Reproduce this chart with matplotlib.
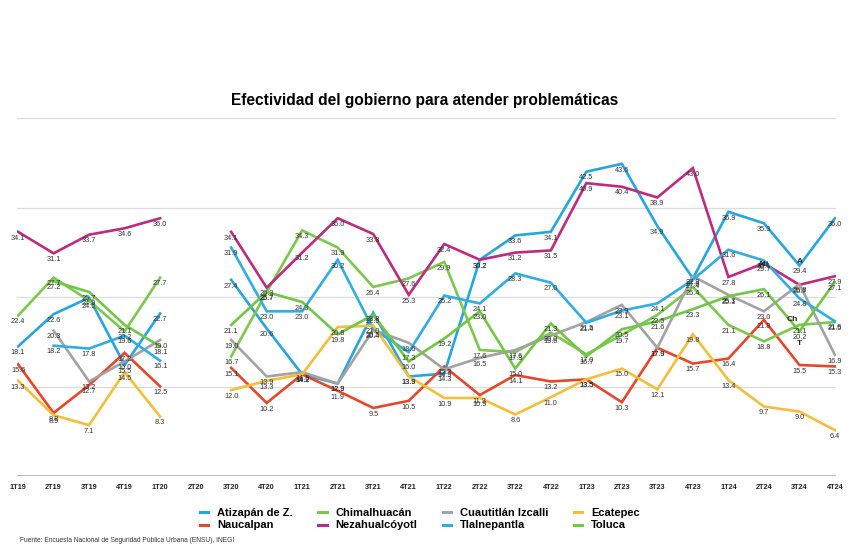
import matplotlib
matplotlib.use("Agg")
import matplotlib.pyplot as plt
import numpy as np

plt.rcParams['font.family'] = ['Liberation Sans', 'DejaVu Sans']

nan = np.nan

quarters = ['1T19', '2T19', '3T19', '4T19', '1T20', '2T20', '3T20', '4T20',
            '1T21', '2T21', '3T21', '4T21', '1T22', '2T22', '3T22', '4T22',
            '1T23', '2T23', '3T23', '4T23', '1T24', '2T24', '3T24', '4T24']

atizapan = [18.1, 22.6, 24.9, 15.5, 22.7, nan, 27.4, 20.6, 14.2, 12.9, 22.8, 13.9,
            14.3, 30.2, 33.6, 34.1, 42.5, 43.6, 34.9, 27.6, 36.9, 35.3, 29.4, 36.0]
naucalpan = [15.6, 8.8, 12.7, 17.2, 12.5, nan, 15.1, 10.2, 14.2, 11.9, 9.5, 10.5,
             15.3, 11.3, 14.1, 13.2, 13.5, 10.3, 17.9, 15.7, 16.4, 21.8, 15.5, 15.3]
chimalhuacan = [22.4, 27.7, 24.5, 20.2, 27.7, nan, 16.7, 25.7, 34.3, 31.9, 26.4, 27.6,
                29.9, 17.6, 17.3, 20.0, 17.0, 19.7, 22.5, 26.4, 21.1, 18.8, 21.1, 21.5]
nezahualcoyotl = [34.1, 31.1, 33.7, 34.6, 36.0, nan, 34.1, 26.3, 31.2, 36.0, 33.8, 25.3,
                  32.4, 30.2, 31.2, 31.5, 40.9, 40.4, 38.9, 43.0, 27.8, 29.7, 26.7, 27.9]
cuautitlan = [nan, 20.3, 13.2, 16.0, 19.0, nan, 19.0, 13.9, 14.5, 12.9, 20.4, 18.6,
              14.9, 16.5, 17.6, 19.6, 21.5, 23.9, 17.9, 27.9, 25.3, 23.0, 26.8, 16.9]
tlalnepantla = [nan, 18.2, 17.8, 19.6, 16.1, nan, 31.9, 23.0, 23.0, 30.2, 20.5, 17.3,
                25.2, 24.1, 28.3, 27.0, 21.4, 23.1, 24.1, 27.4, 31.6, 30.1, 24.8, 21.6]
ecatepec = [13.3, 8.5, 7.1, 14.5, 8.3, nan, 12.0, 13.3, 14.2, 20.8, 21.0, 13.9,
            10.9, 10.9, 8.6, 11.0, 13.5, 15.0, 12.1, 19.8, 13.4, 9.7, 9.0, 6.4]
toluca = [nan, 27.2, 25.7, 21.1, 18.1, nan, 21.1, 25.7, 24.3, 19.8, 22.5, 16.0,
          19.2, 23.0, 15.0, 21.3, 16.7, 20.5, 21.6, 23.3, 25.1, 26.1, 20.2, 27.1]

# legend order (4 columns, filled row-wise by ordering below)
series = [
    ("Atizapán de Z.", atizapan, "#27a5df"),
    ("Naucalpan", naucalpan, "#e8462a"),
    ("Chimalhuacán", chimalhuacan, "#7bc94c"),
    ("Nezahualcóyotl", nezahualcoyotl, "#bd2a7f"),
    ("Cuautitlán Izcalli", cuautitlan, "#a3a3a3"),
    ("Tlalnepantla", tlalnepantla, "#30ade3"),
    ("Ecatepec", ecatepec, "#f3bf3a"),
    ("Toluca", toluca, "#72c645"),
]

# stray short labels seen near the end of the chart
extra_labels = [("Ati", 21, 29.6), ("A", 22, 29.9), ("Ch", 21.8, 21.8), ("T", 22, 18.5)]

fig = plt.figure(figsize=(8.5, 5.5), dpi=100)
ax = fig.add_axes([17 / 850, 74 / 550, (836 - 17) / 850, (476 - 118) / 550])

x = np.arange(len(quarters))
for name, vals, col in series:
    y = np.array(vals, dtype=float)
    ax.plot(x, y, color=col, lw=1.9, label=name, solid_joinstyle='miter', zorder=3)
    for xi, yi in zip(x, y):
        if not np.isnan(yi):
            ax.annotate(f"{yi:.1f}", (xi, yi), xytext=(0, -4.5), textcoords='offset points',
                        ha='center', va='center', fontsize=5.3, color='#333333', zorder=4)

for txt, xi, yi in extra_labels:
    ax.text(xi, yi, txt, fontsize=6, fontweight='bold', color='#222222',
            ha='center', va='center', zorder=5)

ax.set_xlim(-0.03, 23.03)
ax.set_ylim(0, 50)
ax.set_yticks([0, 12.5, 25, 37.5, 50])
ax.set_yticklabels([])
ax.grid(axis='y', color='#dcdcdc', lw=0.9)
ax.axhline(0, color='#a8a8a8', lw=1.1, zorder=2)
ax.set_xticks(x)
ax.set_xticklabels(quarters, fontsize=5.2, fontweight='bold', color='#222222')
ax.tick_params(axis='both', length=0, pad=6)
for s in ax.spines.values():
    s.set_visible(False)

fig.text(0.5, 0.817, "Efectividad del gobierno para atender problemáticas",
         ha='center', va='center', fontsize=11.2, fontweight='bold')

leg = fig.legend(loc='upper center', bbox_to_anchor=(0.494, 0.086), ncol=4, frameon=False,
                 prop={'size': 8, 'weight': 'bold'}, handlelength=0.75, handletextpad=0.8,
                 columnspacing=2.3, labelspacing=0.2, borderpad=0)
for h in leg.get_lines():
    h.set_linewidth(2.2)

fig.text(20 / 850, 1 - 541 / 550, "Fuente: Encuesta Nacional de Seguridad Pública Urbana (ENSU), INEGI",
         fontsize=4.8, color='#333333', va='center')

fig.savefig("out.png", dpi=100, facecolor='white')
